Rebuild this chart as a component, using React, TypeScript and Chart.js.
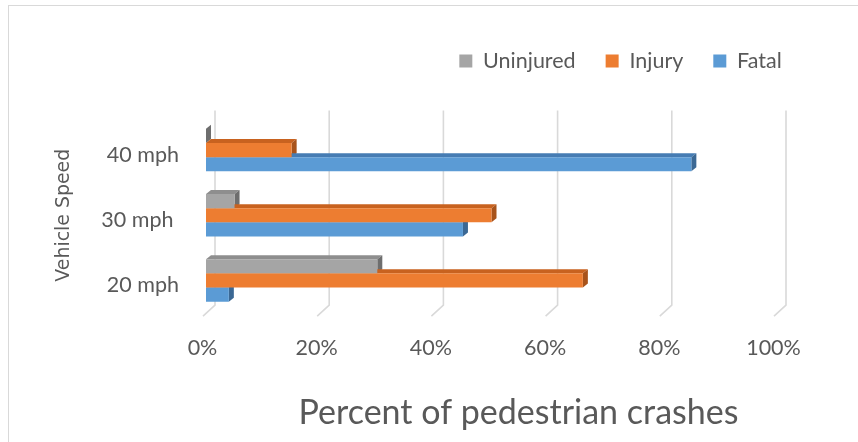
import React, { useEffect, useRef } from 'react';
import { Chart, registerables } from 'chart.js';

Chart.register(...registerables);

// ---- data ----
const categories = ['40 mph', '30 mph ', '20 mph'];
const seriesNames = ['Uninjured', 'Injury', 'Fatal'];
const uninjured = [0, 5, 30];
const injury = [15, 50, 66];
const fatal = [85, 45, 4];
const xTickValues = [0, 20, 40, 60, 80, 100];
const xTitle = 'Percent of pedestrian crashes';
const yTitle = 'Vehicle Speed';

// ---- styles ----
const frontColors = ['#a5a5a5', '#ed7d31', '#5b9bd5'];
const topColors = ['#8e8e8e', '#c8621f', '#467cb3'];
const sideColors = ['#6e6e6e', '#a8531b', '#3b6894'];
const textColor = '#595959';
const gridColor = '#d9d9d9';
const DX = 5;
const DY = 4;

const depthPlugin = {
  id: 'depth3d',
  beforeDatasetsDraw(chart: any) {
    const { ctx, chartArea } = chart;
    const xs = chart.scales.x;
    ctx.save();
    // back-wall gridlines with floor diagonal
    ctx.strokeStyle = gridColor;
    ctx.lineWidth = 1.6;
    xTickValues.forEach((v) => {
      const px = xs.getPixelForValue(v);
      ctx.beginPath();
      ctx.moveTo(px + 9, chartArea.top - 7);
      ctx.lineTo(px + 9, chartArea.bottom - 8);
      ctx.lineTo(px - 3, chartArea.bottom + 3);
      ctx.stroke();
    });
    // 3D faces of the bars
    chart.data.datasets.forEach((ds: any, di: number) => {
      const meta = chart.getDatasetMeta(di);
      meta.data.forEach((bar: any) => {
        const { x, y, base, height } = bar.getProps(['x', 'y', 'base', 'height'], true);
        const left = Math.min(base, x);
        const right = Math.max(base, x);
        const top = y - height / 2;
        const bottom = y + height / 2;
        ctx.fillStyle = topColors[di];
        ctx.beginPath();
        ctx.moveTo(left, top);
        ctx.lineTo(left + DX, top - DY);
        ctx.lineTo(right + DX, top - DY);
        ctx.lineTo(right, top);
        ctx.closePath();
        ctx.fill();
        ctx.fillStyle = sideColors[di];
        ctx.beginPath();
        ctx.moveTo(right, top);
        ctx.lineTo(right + DX, top - DY);
        ctx.lineTo(right + DX, bottom - DY);
        ctx.lineTo(right, bottom);
        ctx.closePath();
        ctx.fill();
      });
    });
    ctx.restore();
  },
};

// x-axis title, placed slightly right of the plot centre as in the original
const xTitlePlugin = {
  id: 'xTitleText',
  afterDraw(chart: any) {
    const { ctx, chartArea } = chart;
    ctx.save();
    ctx.fillStyle = textColor;
    ctx.font = '34px Lato';
    ctx.textAlign = 'center';
    ctx.textBaseline = 'middle';
    ctx.fillText(xTitle, (chartArea.left + chartArea.right) / 2 + 27, chartArea.bottom + 100);
    ctx.restore();
  },
};

export default function App() {
  const canvasRef = useRef<HTMLCanvasElement | null>(null);

  useEffect(() => {
    if (!canvasRef.current) return;
    const seriesValues = [uninjured, injury, fatal];
    const chart = new Chart(canvasRef.current, {
      type: 'bar',
      data: {
        labels: categories,
        datasets: seriesNames.map((name, i) => ({
          label: name,
          data: seriesValues[i],
          backgroundColor: frontColors[i],
          borderWidth: 0,
          barPercentage: 1,
          categoryPercentage: 0.654,
        })),
      },
      options: {
        indexAxis: 'y',
        animation: false,
        responsive: true,
        maintainAspectRatio: false,
        layout: { padding: { top: 20.25, right: 46.3, left: 0, bottom: 0 } },
        plugins: {
          legend: {
            position: 'top',
            align: 'end',
            labels: {
              boxWidth: 13,
              boxHeight: 13,
              padding: 30,
              color: textColor,
              font: { family: 'Lato', size: 21.5 },
            },
          },
          // empty spacer box between legend and plot
          title: {
            display: true,
            text: '',
            position: 'top',
            weight: 500,
            font: { size: 10 },
            padding: { top: 23.65, bottom: 0 },
          },
          tooltip: { enabled: false },
        },
        scales: {
          x: {
            type: 'linear',
            min: 0,
            max: 100,
            afterBuildTicks: (s: any) => {
              s.ticks = xTickValues.map((v) => ({ value: v }));
            },
            afterFit: (s: any) => {
              s.height = 128.9;
              s.paddingRight = 81;
              s.paddingLeft = 0;
            },
            grid: { display: false, drawTicks: false },
            border: { display: false },
            ticks: {
              padding: 22,
              labelOffset: -3.5,
              color: textColor,
              font: { family: 'Lato', size: 21.5 },
              callback: (v: any) => `${v}%`,
            },
            title: { display: false },
          },
          y: {
            afterFit: (s: any) => {
              s.width = 206;
              s.paddingTop = 0;
              s.paddingBottom = 0;
            },
            grid: { display: false, drawTicks: false },
            border: { display: false },
            ticks: {
              padding: 27,
              labelOffset: 5,
              color: textColor,
              font: { family: 'Lato', size: 21.5 },
            },
            title: {
              display: true,
              text: yTitle,
              color: textColor,
              font: { family: 'DejaVu Sans', size: 18.9 },
              padding: { top: 52.7, bottom: 0 },
            },
          },
        },
      } as any,
      plugins: [depthPlugin, xTitlePlugin],
    });
    return () => chart.destroy();
  }, []);

  return (
    <>
      <div
        style={{
          position: 'absolute',
          left: 8,
          top: 5,
          width: 850,
          height: 437,
          boxSizing: 'border-box',
          borderLeft: '1px solid #d9d9d9',
          borderTop: '1px solid #d9d9d9',
        }}
      />
      <div style={{ position: 'absolute', left: 0, top: 0, width: 858, height: 442 }}>
        <canvas ref={canvasRef} />
      </div>
    </>
  );
}
